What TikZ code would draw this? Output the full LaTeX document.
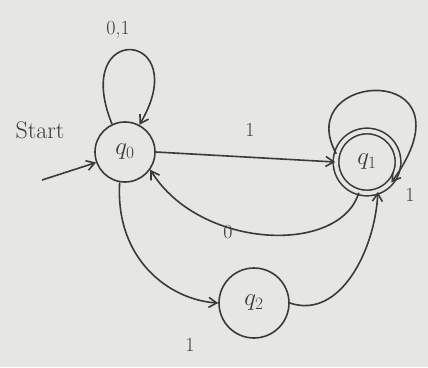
\documentclass[tikz,border=0pt]{standalone}
\usetikzlibrary{arrows.meta}
\definecolor{ink}{HTML}{3A3A3A}
\definecolor{paper}{HTML}{E6E6E3}
\begin{document}
\begin{tikzpicture}[x=1pt,y=-1pt,
  state/.style={circle,draw=ink,line width=1.6pt,inner sep=0pt,text=ink,font=\fontsize{26}{30}\selectfont},
  accept/.style={state,double=paper,double distance=4pt},
  trans/.style={draw=ink,line width=1.6pt,-{Straight Barb[length=8pt,width=10pt]}},
  lbl/.style={text=ink,font=\fontsize{20}{24}\selectfont}]
\fill[paper] (0,0) rectangle (428,367);
\useasboundingbox (0,0) rectangle (428,367);
\node[state,minimum size=60pt] (q0) at (125,152) {$q_0$};
\node[accept,minimum size=62pt] (q1) at (367,162) {$q_1$};
\node[state,minimum size=70pt] (q2) at (254,303) {$q_2$};
\coordinate (s0) at (42,180);
\node[lbl,font=\fontsize{24}{28}\selectfont] (start) at (40,130) {Start};
\draw[trans] (s0) -- (q0.200);
% self loop q0
\draw[trans] (q0.115) .. controls (70,20) and (195,30) .. (q0.62);
\node[lbl] (l00) at (118,30) {0,1};
% q0 -> q1
\draw[trans] (q0.east) -- (q1.west);
\node[lbl] (l01) at (250,130) {1};
% q1 -> q0
\draw[trans] (q1.-105) .. controls (340,255) and (200,250) .. (q0.-35);
\node[lbl] (l10) at (228,232) {0};
% q0 -> q2
\draw[trans] (q0.-100) .. controls (115,260) and (170,300) .. (q2.west);
\node[lbl] (l02) at (190,345) {1};
% q2 -> q1
\draw[trans] (q2.east) .. controls (340,320) and (375,250) .. (q1.-70);
% self loop q1
\draw[trans] (q1.165) .. controls (290,70) and (480,60) .. (q1.-40);
\node[lbl] (l11) at (410,195) {1};
\end{tikzpicture}
\end{document}
